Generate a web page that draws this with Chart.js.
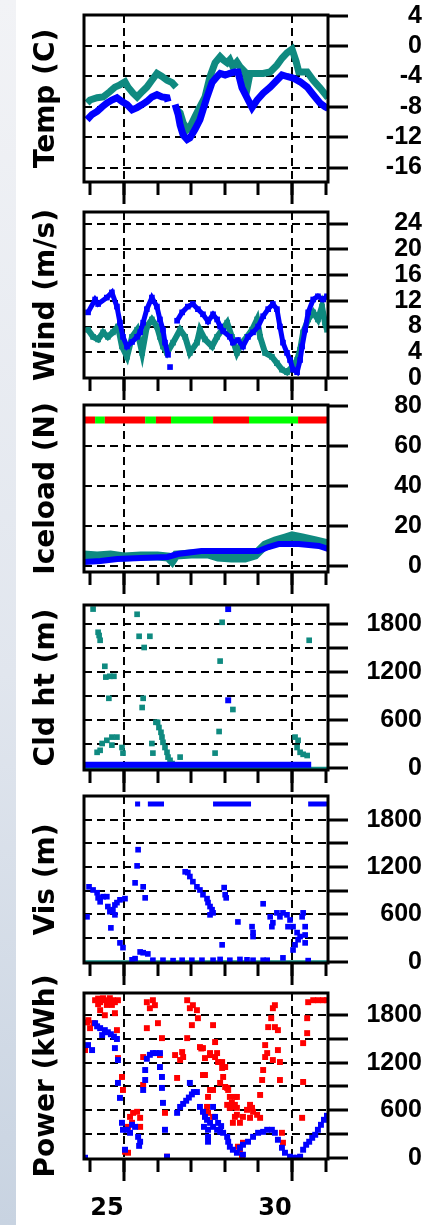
<!DOCTYPE html>
<html>
<head>
<meta charset="utf-8">
<script src="https://cdn.jsdelivr.net/npm/chart.js@4.4.1/dist/chart.umd.min.js"></script>
<style>
  html, body { margin: 0; padding: 0; background: #fff; }
  body { width: 422px; height: 1225px; position: relative; overflow: hidden; }
  #strip { position: absolute; left: 0; top: 0; width: 16px; height: 1225px;
    background: linear-gradient(180deg, #f2f3f6 0%, #e1e6ee 55%, #c8d3e1 100%); }
  canvas { position: absolute; left: 0; }
</style>
</head>
<body>
<div id="strip"></div>
<script>
// time axis (day of month)
const xMin = 23.81, xMax = 31.07;
const dayTicks = [24, 25, 26, 27, 28, 29, 30, 31];
const majorDays = [25, 30];
const dayLabels = [25, 30];

// right axis ticks / labels / dashed lines
const tempTicks = [-16, -12, -8, -4, 0, 4];
const tempGrid = [-16, -12, -8, -4, 0];
const windTicks = [0, 4, 8, 12, 16, 20, 24];
const windGrid = [4, 8, 12, 16, 20, 24];
const iceTicks = [0, 20, 40, 60, 80];
const iceGrid = [0, 20, 40, 60];
const hTicks = [0, 300, 600, 900, 1200, 1500, 1800];
const hLabels = [0, 600, 1200, 1800];
const hGrid = [300, 600, 900, 1200, 1500, 1800];

// Temp (C)
const tealTemp = [[23.90,-7.5],[23.99,-7.1],[24.20,-6.8],[24.38,-6.7],[24.58,-6.0],[24.73,-5.4],[24.88,-5.1],[25.03,-4.7],[25.12,-5.4],[25.27,-6.2],[25.39,-6.7],[25.54,-6.0],[25.68,-5.4],[25.83,-4.5],[25.98,-3.6],[26.13,-4.0],[26.28,-4.5],[26.43,-4.8],[26.55,-5.4],null,
  [26.58,-8.4],[26.67,-8.8],[26.76,-10.1],[26.88,-11.0],[26.96,-10.7],[27.11,-9.3],[27.26,-8.0],[27.41,-6.7],[27.56,-4.0],[27.71,-2.2],[27.86,-1.4],[27.95,-1.8],[28.07,-2.2],[28.15,-1.8],[28.24,-2.7],[28.36,-2.1],[28.45,-2.7],[28.60,-3.4],[28.68,-5.2],[28.75,-3.6],[28.96,-3.6],[29.14,-3.6],[29.35,-3.4],[29.55,-2.5],[29.70,-1.6],[29.85,-0.9],[30.00,-0.4],[30.12,-2.0],[30.20,-3.4],[30.45,-3.4],[30.63,-4.5],[30.83,-5.5],[30.98,-6.3],[31.07,-6.8]];
const blueTemp = [[23.90,-9.7],[24.05,-9.0],[24.20,-8.6],[24.35,-8.0],[24.49,-7.5],[24.64,-7.1],[24.79,-6.8],[24.94,-7.3],[25.09,-7.7],[25.24,-8.4],[25.39,-8.1],[25.54,-7.7],[25.68,-7.3],[25.83,-6.7],[25.98,-6.4],[26.13,-6.7],[26.28,-6.8],[26.31,-7.3],null,
  [26.52,-7.7],[26.61,-9.0],[26.67,-10.4],[26.76,-11.7],[26.88,-12.3],[26.96,-12.1],[27.11,-11.0],[27.26,-9.7],[27.35,-8.4],[27.47,-6.7],[27.62,-4.8],[27.77,-4.0],[27.86,-3.6],[28.01,-3.8],[28.15,-3.6],[28.30,-3.4],[28.39,-3.4],[28.51,-5.5],[28.66,-6.8],[28.81,-8.1],[28.96,-7.1],[29.14,-6.2],[29.35,-5.4],[29.55,-4.5],[29.70,-3.8],[29.85,-4.0],[30.03,-4.2],[30.24,-4.7],[30.45,-5.4],[30.63,-6.4],[30.83,-7.5],[30.98,-8.0],[31.07,-8.2]];

// Wind (m/s)
const tealWind = [[23.93,7.5],[24.08,6.4],[24.23,6.0],[24.38,7.1],[24.52,6.4],[24.67,7.1],[24.82,8.0],[24.94,4.9],[25.09,3.3],[25.24,6.4],[25.39,7.5],[25.54,3.9],[25.68,8.0],[25.83,9.1],[25.98,8.0],[26.07,6.4],[26.16,4.9],[26.28,3.9],[26.46,5.5],[26.67,7.5],[26.82,6.4],[26.96,3.9],[27.17,5.5],[27.26,7.5],[27.41,6.0],[27.62,4.9],[27.77,6.4],[27.92,7.5],[28.07,8.6],[28.21,6.4],[28.36,3.9],[28.51,5.5],[28.66,6.4],[28.81,7.5],[28.96,9.1],[29.05,6.4],[29.20,3.9],[29.40,3.3],[29.55,2.3],[29.70,1.3],[29.85,0.9],[30.00,1.7],[30.15,2.8],[30.24,4.4],[30.33,7.1],[30.48,9.1],[30.63,10.2],[30.77,9.1],[30.89,11.1],[30.98,8.6],[31.04,7.5]];
const blueWind = [[23.93,10.2],[24.14,12.2],[24.23,11.5],[24.49,12.5],[24.64,13.3],[24.79,11.1],[24.88,8.6],[24.97,6.4],[25.09,4.9],[25.24,5.6],[25.39,6.4],[25.48,7.1],[25.57,8.6],[25.68,10.7],[25.83,12.5],[25.98,11.1],[26.07,9.1],[26.16,7.5],[26.22,5.5],[26.31,3.6],null,[26.37,1.7],null,
  [26.58,8.9],[26.73,10.2],[26.90,11.1],[27.05,11.5],[27.20,10.7],[27.35,9.9],[27.50,8.8],[27.65,9.9],[27.77,9.1],[27.86,8.0],[27.95,7.3],[28.15,6.4],[28.24,5.5],[28.39,5.9],[28.54,4.9],[28.69,6.4],[28.84,7.1],[28.99,8.0],[29.14,9.6],[29.29,10.7],[29.43,11.5],[29.55,10.7],[29.64,8.0],[29.73,5.5],[29.85,3.9],[29.94,2.8],[30.03,1.3],[30.15,0.9],[30.24,2.8],[30.30,4.9],[30.39,7.5],[30.48,10.2],[30.63,12.2],[30.77,12.7],[30.92,12.2],[31.04,12.7]];

// Iceload (N)
const tealIce = [[23.81,5.5],[24.2,5],[24.6,5.5],[25.0,4.5],[25.5,5],[26.0,5],[26.31,4.5],[26.43,2.5],[26.55,5.5],[27.0,6],[27.5,6],[27.8,4.5],[28.2,4],[28.6,4],[28.9,5.5],[29.2,10.5],[29.5,12.5],[29.8,14],[30.0,15],[30.3,14],[30.7,12.5],[31.07,11]];
const blueIce = [[23.81,2],[24.3,2.5],[24.8,3.5],[25.5,4],[26.3,4.5],[26.6,6],[27.3,7.5],[28.3,7.5],[29.0,7.5],[29.3,9.5],[29.6,11],[30.2,11],[30.8,10],[31.07,8.5]];
const iceFlagLevel = 73;
const iceFlagDays = [23.81, 24.14, 24.43, 25.63, 25.95, 26.40, 27.65, 28.72, 30.18, 31.07];
const iceFlagState = ['r', 'g', 'r', 'g', 'r', 'g', 'r', 'g', 'r'];

// Cld ht (m)
const tealCld = [[24.08,1990],[24.23,1700],[24.26,1660],[24.29,1600],[24.43,1275],[24.46,1140],[24.58,1150],[24.70,1150],[24.55,875],[24.20,200],[24.29,225],[24.35,310],[24.49,350],[24.64,390],[24.79,390],[24.64,290],[24.94,260],[24.97,190],[25.39,1925],[25.45,1650],[25.77,1650],[25.60,1510],[25.57,875],[25.54,760],[25.83,310],[25.86,190],[25.95,575],[26.00,575],[26.04,510],[26.10,450],[26.13,390],[26.16,325],[26.22,260],[26.28,200],[26.31,140],[26.37,100],[26.43,60],[26.67,140],[27.71,190],[27.83,460],[27.86,1340],[27.92,1825],[28.24,735],[30.09,390],[30.18,350],[30.15,260],[30.24,200],[30.33,175],[30.45,160],[30.51,1600]];
const tealCldBase = [[23.81,0],[31.07,0]];
const blueCldBase = [[23.81,45],[25.0,45],[26.5,45],[28.0,45],[29.5,45],[30.57,45]];
const blueCld = [[28.10,1990],[28.10,850]];

// Vis (m)
const blueVis = [[23.90,570],[23.96,950],[24.08,910],[24.20,875],[24.23,810],[24.29,760],[24.38,825],[24.49,825],[24.52,700],[24.58,635],[24.67,660],[24.73,720],[24.79,750],[24.88,785],[25.03,800],[24.61,430],[24.73,595],[24.88,240],[24.97,180],
  [25.42,1420],[25.39,1215],[25.33,1000],[25.57,950],[25.63,810],[25.48,125],[25.57,115],[25.71,100],
  [25.24,25],[25.33,40],[25.86,20],[26.16,20],[26.46,15],[26.73,20],[27.02,20],[27.32,20],[27.65,20],[27.86,30],[28.15,20],[28.45,30],[28.66,25],[28.84,20],[29.14,20],[29.26,20],[29.73,50],[30.48,15],
  [26.82,1140],[26.90,1130],[26.96,1080],[27.05,1015],[27.17,950],[27.26,910],[27.35,850],[27.47,800],[27.50,750],[27.56,700],[27.62,660],[27.56,595],[27.65,620],
  [27.98,940],[28.01,850],[28.04,810],[27.92,215],[28.39,505],[28.81,445],[28.84,370],[28.84,320],[29.14,735],
  [29.35,570],[29.43,495],[29.40,445],[29.55,620],[29.64,570],[29.73,620],[29.85,595],[29.94,530],[29.88,445],[30.03,445],[30.15,370],[30.18,280],[30.09,215],[30.03,150],[30.24,320],[30.30,570],[30.33,620],[30.39,445],[30.39,340],[30.39,240]];
const blueVisTop = [[25.33,2000],[25.48,2000],null,[25.71,2000],[26.19,2000],null,[27.65,2000],[28.78,2000],null,[30.48,2000],[31.07,2000]];
const tealVisBase = [[23.81,0],[31.07,0]];

// Power (kWh)
const redPower = [[23.84,1360],[23.94,1738],[23.99,1637],[24.09,1700],[23.90,1710],
  [24.14,1990],[24.23,2010],[24.29,1965],[24.38,2015],[24.43,1990],[24.52,1965],[24.58,2015],[24.67,1990],[24.73,1965],[24.82,1990],[24.23,1940],[24.49,1930],[24.64,1930],
  [24.29,1864],[24.43,1800],[24.73,1826],[24.79,1612],[24.82,1259],[24.94,1020],[24.97,856],
  [25.03,76],[25.12,63],[25.12,390],[25.18,516],[25.24,441],[25.27,567],[25.39,580],[25.48,504],[25.48,390],
  [25.68,1965],[25.86,1990],[25.92,1927],[25.77,1889],[25.68,1637],[26.01,1700],[26.13,1511],[26.07,1297],[25.57,1272],[25.57,919],[26.22,567],[26.28,13],
  [26.88,1990],[26.96,1889],[27.05,1927],[27.17,1864],[27.20,1763],[27.02,1675],[26.88,1511],[26.73,1335],[26.76,1272],[26.67,1234],[26.58,1008],[26.52,1297],
  [27.26,1398],[27.30,1380],[27.35,1385],[27.41,1259],[27.41,1045],[27.35,1045],[27.56,1322],[27.56,1297],[27.65,1675],[27.71,1461],[27.71,1272],[27.77,1322],[27.80,1209],[27.92,1134],[27.92,1209],[27.95,1020],[28.01,1146],[27.86,945],
  [27.56,856],[27.65,856],[27.50,768],[27.47,642],[27.50,567],[27.65,516],
  [28.07,882],[28.01,894],[28.10,856],[28.15,768],[28.21,693],[28.15,642],[28.24,642],[28.36,768],[28.30,768],[28.30,516],[28.24,441],[28.07,668],[28.15,630],[28.30,668],[28.36,630],[28.36,542],[28.45,441],[28.54,516],[28.66,605],[28.75,668],[28.81,630],[28.84,580],[28.75,504],[28.96,542],[29.05,504],
  [28.39,139],[28.45,101],[28.54,189],[28.51,13],
  [29.05,793],[29.11,982],[29.14,1108],[29.20,1272],[29.20,1423],[29.26,1322],[29.29,1650],[29.38,1763],[29.43,1889],[29.49,1927],[29.49,1650],[29.58,1612],[29.58,1360],[29.64,1209],[29.64,982],[29.43,1234],[29.70,315],[29.73,189],
  [30.30,504],[30.33,957],[30.33,1448],[30.45,1574],[30.45,1763],[30.48,1965],[30.63,1990],[30.77,1990],[30.92,1990],[31.04,1990]];
const bluePower = [[23.84,0],[23.93,1423],[24.05,1360],[24.14,1700],[24.20,1660],[24.29,1637],[24.35,1549],[24.43,1612],[24.52,1585],[24.61,1560],[24.70,1530],[24.79,1500],[24.73,1385],[24.82,1234],[24.82,945],[24.88,756],[24.94,441],[24.97,353],[25.03,101],
  [25.09,353],[25.18,315],[25.24,416],[25.33,390],[25.42,264],[25.48,202],[25.45,150],
  [25.57,856],[25.63,982],[25.63,1108],[25.68,1250],[25.77,1300],[25.86,1322],[25.95,1322],[26.07,1322],[26.07,1146],[26.13,1020],[26.13,882],[26.16,693],[26.22,353],[26.28,13],
  [26.58,567],[26.67,642],[26.76,680],[26.85,720],[26.93,760],[27.02,800],[27.08,830],[27.17,830],[26.96,945],
  [27.26,642],[27.35,580],[27.41,516],[27.47,479],[27.38,390],[27.50,353],[27.50,264],[27.50,202],[27.56,441],[27.65,642],[27.65,390],
  [27.71,516],[27.80,440],[27.89,400],[27.77,353],[27.86,327],[27.95,315],[28.07,264],[28.10,202],[28.15,139],[28.24,101],[28.36,63],[28.45,126],[28.54,164],[28.54,38],[28.69,202],[28.84,264],[28.99,315],[29.14,327],[29.26,353],[29.40,353],[29.49,315],[29.58,227],[29.70,126],[29.79,63],[29.94,13],[30.03,0],[30.15,0],[30.24,13],[30.33,101],[30.42,164],[30.51,202],[30.60,252],[30.69,290],[30.77,353],[30.86,416],[30.95,479],[31.04,530]];

const TEAL = '#0f8a80', BLUE = '#0000ff', RED = '#ff0000', GREEN = '#00ff00';

Chart.defaults.color = '#000';
Chart.defaults.font.family = "'Liberation Sans', Arial, sans-serif";

const pts = arr => arr.map(p => p ? { x: p[0], y: p[1] } : { x: null, y: null });

function lineSet(arr, color, width) {
  return { data: pts(arr), showLine: true, borderColor: color, borderWidth: width,
    pointRadius: 0, spanGaps: false, clip: 0, borderCapStyle: 'butt' };
}
function dotSet(arr, color, r, lineWidth) {
  return { data: pts(arr), showLine: !!lineWidth, borderColor: color, borderWidth: lineWidth || 0,
    backgroundColor: color, pointBackgroundColor: color, pointBorderWidth: 0,
    pointStyle: 'rect', pointRadius: r, spanGaps: false, clip: 0 };
}

const TICK_FONT = { size: 25, weight: 'bold' };
const meas = document.createElement('canvas').getContext('2d');
meas.font = "bold 25px 'Liberation Sans', Arial, sans-serif";
function widest(labels) {
  return Math.max(...labels.map(v => meas.measureText(String(v)).width));
}

// draws the panel box and the long ticks at day 25 / 30
const framePlugin = {
  id: 'frame',
  afterDraw(chart) {
    const { ctx, chartArea: a, scales: { x } } = chart;
    ctx.save();
    ctx.strokeStyle = '#000';
    ctx.lineWidth = 3;
    ctx.strokeRect(a.left, a.top, a.right - a.left, a.bottom - a.top);
    majorDays.forEach(d => {
      const px = x.getPixelForValue(d);
      ctx.beginPath();
      ctx.moveTo(px, a.bottom);
      ctx.lineTo(px, a.bottom + 22);
      ctx.stroke();
    });
    ctx.restore();
  }
};

function makePanel(p) {
  const canvas = document.createElement('canvas');
  const h = p.bottom - p.top + p.padTop + p.padBottom;
  canvas.width = 422;
  canvas.height = h;
  canvas.style.top = (p.top - p.padTop) + 'px';
  document.body.appendChild(canvas);

  // right-align every label at x = 398
  const labelPad = 50 - widest(p.labels);

  new Chart(canvas, {
    type: 'scatter',
    data: { datasets: p.datasets },
    options: {
      responsive: false,
      devicePixelRatio: 1,
      animation: false,
      events: [],
      layout: { padding: { top: p.padTop, left: 0, right: 0, bottom: 0 }, autoPadding: false },
      plugins: { legend: { display: false }, tooltip: { enabled: false } },
      scales: {
        x: {
          type: 'linear', position: 'bottom', min: xMin, max: xMax, z: 1,
          afterBuildTicks: s => { s.ticks = dayTicks.map(v => ({ value: v })); },
          afterFit: s => { s.height = p.padBottom; s.paddingLeft = 0; s.paddingRight = 0; },
          ticks: {
            display: !!p.showDays, autoSkip: false, maxRotation: 0, minRotation: 0,
            callback: v => dayLabels.includes(v) ? String(v) : '',
            font: { family: "'DejaVu Sans', sans-serif", size: 24, weight: 'bold' },
            color: '#000', padding: 22, labelOffset: -17
          },
          grid: {
            color: '#000', tickLength: 13, tickWidth: 3, tickColor: '#000',
            lineWidth: c => (c.tick && majorDays.includes(c.tick.value)) ? 2 : 0
          },
          border: { display: false, dash: [8, 5] }
        },
        y: {
          type: 'linear', position: 'right', min: p.yMin, max: p.yMax, z: 1,
          afterBuildTicks: s => { s.ticks = p.ticks.map(v => ({ value: v })); },
          afterFit: s => { s.width = 94; s.paddingTop = 0; s.paddingBottom = 0; },
          ticks: {
            autoSkip: false,
            callback: v => p.labels.includes(v) ? String(v) : '',
            font: TICK_FONT, color: '#000',
            crossAlign: 'far', padding: labelPad
          },
          grid: {
            color: '#000', tickLength: 20, tickWidth: 3, tickColor: '#000',
            lineWidth: c => (c.tick && p.grid.includes(c.tick.value)) ? 2 : 0
          },
          border: { display: false, dash: [8, 5] }
        },
        yTitle: {
          type: 'linear', position: 'left',
          afterFit: s => { s.width = 84; s.paddingTop = 0; s.paddingBottom = 0; },
          ticks: { display: false },
          grid: { display: false },
          border: { display: false },
          title: {
            display: true, text: p.title, color: '#000',
            font: { family: "'DejaVu Sans', sans-serif", size: 28, weight: 'bold' },
            padding: { top: 30, bottom: 0 }
          }
        }
      }
    },
    plugins: [framePlugin]
  });
}

makePanel({
  title: 'Temp (C)', top: 15, bottom: 182, padTop: 15, padBottom: 25,
  yMin: -17.9, yMax: 4.1, ticks: tempTicks, labels: tempTicks, grid: tempGrid,
  datasets: [lineSet(blueTemp, BLUE, 7), lineSet(tealTemp, TEAL, 7)]
});
makePanel({
  title: 'Wind (m/s)', top: 212, bottom: 378, padTop: 15, padBottom: 25,
  yMin: 0, yMax: 25.8, ticks: windTicks, labels: windTicks, grid: windGrid,
  datasets: [dotSet(blueWind, BLUE, 4, 5), dotSet(tealWind, TEAL, 4, 6)]
});
makePanel({
  title: 'Iceload (N)', top: 405, bottom: 572, padTop: 15, padBottom: 25,
  yMin: -3, yMax: 80.5, ticks: iceTicks, labels: iceTicks, grid: iceGrid,
  datasets: [
    Object.assign(lineSet(iceFlagDays.map(d => [d, iceFlagLevel]), RED, 7), {
      segment: { borderColor: c => iceFlagState[c.p0DataIndex] === 'g' ? GREEN : RED }
    }),
    lineSet(blueIce, BLUE, 6),
    lineSet(tealIce, TEAL, 9)
  ]
});
makePanel({
  title: 'Cld ht (m)', top: 605, bottom: 770, padTop: 15, padBottom: 25,
  yMin: -21, yMax: 2041, ticks: hTicks, labels: hLabels, grid: hGrid,
  datasets: [dotSet(blueCld, BLUE, 4.2), lineSet(blueCldBase, BLUE, 6),
    dotSet(tealCld, TEAL, 4), lineSet(tealCldBase, TEAL, 3)]
});
makePanel({
  title: 'Vis (m)', top: 796, bottom: 963, padTop: 15, padBottom: 25,
  yMin: -15, yMax: 2100, ticks: hTicks, labels: hLabels, grid: hGrid,
  datasets: [dotSet(blueVis, BLUE, 4), lineSet(blueVisTop, BLUE, 5), lineSet(tealVisBase, TEAL, 3)]
});
makePanel({
  title: 'Power (kWh)', top: 993, bottom: 1159, padTop: 25, padBottom: 66, showDays: true,
  yMin: -16, yMax: 2081, ticks: hTicks, labels: hLabels, grid: hGrid,
  datasets: [dotSet(bluePower, BLUE, 4.2), dotSet(redPower, RED, 4.2)]
});
</script>
</body>
</html>
